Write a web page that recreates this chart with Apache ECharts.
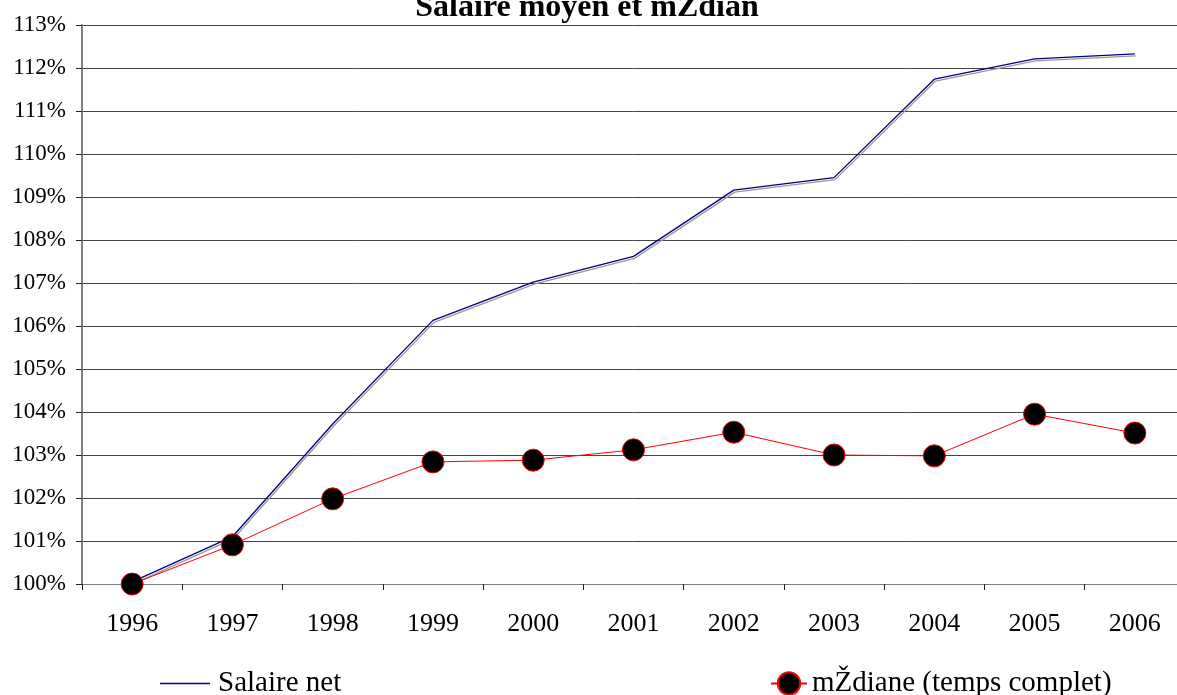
<!DOCTYPE html>
<html>

<head>
    <meta charset="utf-8">
    <title>Salaire moyen et median</title>
    <script src="https://cdn.jsdelivr.net/npm/echarts@6/dist/echarts.min.js"></script>
    <style>
        html, body { margin: 0; padding: 0; background: #fff; overflow: hidden; }
        /* the plot runs a little past the right edge of the window, as in the source */
        #chart { width: 1190px; height: 695px; }
    </style>
</head>

<body>
    <div id="chart"></div>

    <script type="text/javascript">
        // data (percent of 1996)
        var years = ['1996', '1997', '1998', '1999', '2000', '2001', '2002', '2003', '2004', '2005', '2006'];
        var salaire_net = [100.05, 101.1, 103.72, 106.13, 107.02, 107.62, 109.16, 109.45, 111.74, 112.21, 112.33];
        var mediane = [100.0, 100.91, 101.98, 102.84, 102.88, 103.12, 103.53, 103.0, 102.98, 103.95, 103.51];

        var serif = 'Liberation Serif';
        var chart = echarts.init(document.getElementById('chart'), null, { renderer: 'canvas' });

        var option = {
            animation: false,
            backgroundColor: '#fff',
            title: {
                text: 'Salaire moyen et mŽdian',
                left: 582,
                textAlign: 'center',
                top: -13,
                textStyle: { fontFamily: serif, fontSize: 32, fontWeight: 'bold', color: '#000' }
            },
            legend: [
                {
                    data: [{ name: 'Salaire net', icon: 'rect' }],
                    left: 155,
                    top: 664,
                    itemWidth: 50,
                    itemHeight: 1.5,
                    itemGap: 10,
                    textStyle: { fontFamily: serif, fontSize: 29, color: '#000', padding: [0, 0, 0, 3] }
                },
                {
                    data: ['mŽdiane (temps complet)'],
                    left: 765,
                    top: 664,
                    itemWidth: 36,
                    itemHeight: 28,
                    textStyle: { fontFamily: serif, fontSize: 29, color: '#000' }
                }
            ],
            grid: { left: 82, right: 5, top: 25, bottom: 111, containLabel: false },
            xAxis: {
                type: 'category',
                data: years,
                boundaryGap: true,
                axisLine: { lineStyle: { color: '#808080', width: 1 } },
                axisTick: { show: true, length: 6, lineStyle: { color: '#222' } },
                axisLabel: { fontFamily: serif, fontSize: 26, color: '#000', margin: 27 },
                splitLine: { show: false }
            },
            yAxis: {
                type: 'value',
                min: 100,
                max: 113,
                interval: 1,
                axisLine: { show: true, lineStyle: { color: '#808080', width: 2 } },
                axisTick: { show: true, length: 6, lineStyle: { color: '#222' } },
                axisLabel: { formatter: '{value}%', fontFamily: serif, fontSize: 23, color: '#000', margin: 16 },
                splitLine: { show: true, lineStyle: { color: '#444', width: 1 } }
            },
            series: [
                {
                    name: 'Salaire net',
                    type: 'line',
                    data: salaire_net,
                    symbol: 'none',
                    color: '#000080',
                    lineStyle: {
                        color: '#000080', width: 1.3,
                        shadowColor: '#999', shadowBlur: 0, shadowOffsetX: 1, shadowOffsetY: 2
                    }
                },
                {
                    name: 'mŽdiane (temps complet)',
                    type: 'line',
                    data: mediane,
                    symbol: 'circle',
                    symbolSize: 22,
                    color: '#000',
                    lineStyle: { color: '#ff0000', width: 1 },
                    itemStyle: { color: '#000', borderColor: '#ff0000', borderWidth: 1 }
                }
            ]
        };

        chart.setOption(option);
    </script>
</body>

</html>
